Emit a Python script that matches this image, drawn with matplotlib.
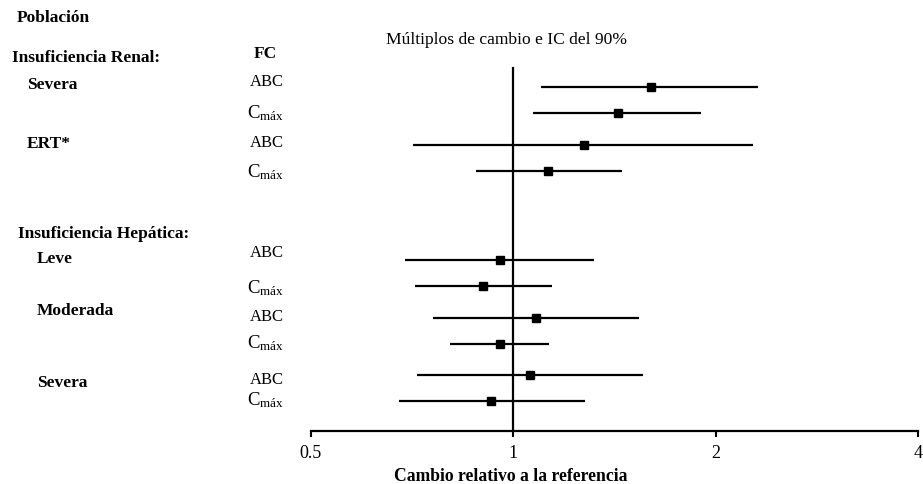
import matplotlib
matplotlib.use("Agg")
import matplotlib.pyplot as plt

plt.rcParams['font.family'] = ['Liberation Serif', 'DejaVu Serif']
plt.rcParams['mathtext.fontset'] = 'custom'
plt.rcParams['mathtext.rm'] = 'Liberation Serif'
plt.rcParams['mathtext.it'] = 'Liberation Serif:italic'
plt.rcParams['mathtext.bf'] = 'Liberation Serif:bold'

# ---- data ----
params = ["ABC", "Cmáx", "ABC", "Cmáx", "ABC", "Cmáx", "ABC", "Cmáx", "ABC", "Cmáx"]
point = [1.60, 1.43, 1.275, 1.125, 0.955, 0.90, 1.08, 0.955, 1.06, 0.925]
lower = [1.10, 1.07, 0.71, 0.88, 0.69, 0.715, 0.76, 0.805, 0.72, 0.675]
upper = [2.31, 1.90, 2.27, 1.45, 1.32, 1.14, 1.54, 1.13, 1.56, 1.28]
xticks = [0.5, 1, 2, 4]
xtick_labels = ["0.5", "1", "2", "4"]
groups = ["Insuficiencia Renal:", "Insuficiencia Hepática:"]
subgroups = ["Severa", "ERT*", "Leve", "Moderada", "Severa"]

# ---- layout (pixel rows) ----
W, H = 923, 485
row_y = [88, 114, 146, 172, 261, 287, 319, 345, 376, 402]
label_y = [82, 113, 143, 172, 253, 288, 317, 343, 380, 400]
sub_pos = [(27, 85), (27, 144), (37, 259), (37, 311), (37, 383)]
grp_pos = [(12, 58), (18, 234)]

fig = plt.figure(figsize=(W / 100, H / 100), dpi=100)
ax_left, ax_right = 311, 918
ax_bottom_px, ax_top_px = 432, 60
ax = fig.add_axes([ax_left / W, 1 - ax_bottom_px / H,
                   (ax_right - ax_left) / W, (ax_bottom_px - ax_top_px) / H])
ax.set_xscale('log', base=2)
ax.set_xlim(0.5, 4)
ax.set_ylim(ax_bottom_px, ax_top_px)

for yv, p, lo, hi in zip(row_y, point, lower, upper):
    ax.plot([lo, hi], [yv, yv], color='black', lw=1.6, solid_capstyle='butt')
    ax.plot([p], [yv], marker='s', color='black', ms=6, mec='black')

ax.vlines(1, 68, ax_bottom_px, color='black', lw=1.6)

for s in ['top', 'right', 'left']:
    ax.spines[s].set_visible(False)
ax.spines['bottom'].set_linewidth(1.6)
ax.set_yticks([])
ax.set_xticks(xticks)
ax.set_xticklabels(xtick_labels, fontsize=13)
ax.xaxis.set_minor_locator(matplotlib.ticker.NullLocator())
ax.tick_params(axis='x', direction='out', length=4, width=1.5, pad=5, colors='black')


def ftext(x, y, s, **kw):
    fig.text(x / W, 1 - y / H, s, va='center', **kw)


ftext(511, 477, "Cambio relativo a la referencia", fontsize=12.7, fontweight='bold', ha='center')
ftext(506, 40, "Múltiplos de cambio e IC del 90%", fontsize=12.6, ha='center')
ftext(17, 18, "Población", fontsize=12.5, fontweight='bold', ha='left')
ftext(265, 54, "FC", fontsize=12.5, fontweight='bold', ha='center')
for (gx, gy), g in zip(grp_pos, groups):
    ftext(gx, gy, g, fontsize=12.5, fontweight='bold', ha='left')
for (sx, sy), s in zip(sub_pos, subgroups):
    ftext(sx, sy, s, fontsize=12.5, fontweight='bold', ha='left')
for ly, p in zip(label_y, params):
    if p == "ABC":
        ftext(267, ly, "ABC", fontsize=12, ha='center')
    else:
        ftext(247, ly, r"$\mathrm{C}_{\mathrm{" + p[1:] + "}}$", fontsize=13.5, ha='left')

fig.savefig("out.png", dpi=100, facecolor='white')
